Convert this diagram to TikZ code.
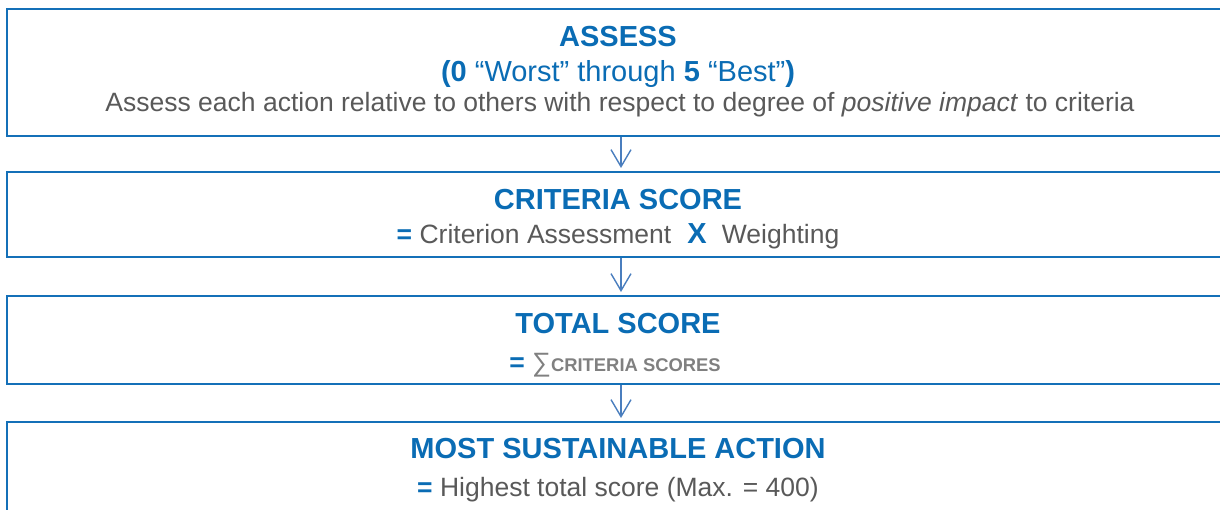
\documentclass[tikz,border=0pt]{standalone}
\usepackage{fontspec}
\setmainfont{Liberation Sans}
\usetikzlibrary{arrows.meta}
\definecolor{boxblue}{HTML}{1470B8}
\definecolor{titleblue}{HTML}{0A6CB4}
\definecolor{arrowblue}{HTML}{4A7EBE}
\definecolor{txtgray}{HTML}{595959}
\definecolor{lightgray}{HTML}{808080}
\tikzset{
  box/.style={draw=boxblue, line width=2pt, rectangle, minimum width=1228pt, inner sep=0pt},
  title/.style={anchor=base, inner sep=0pt, text=titleblue, font=\fontsize{29}{34}\selectfont\bfseries},
  body/.style={anchor=base, inner sep=0pt, text=txtgray, font=\fontsize{26.5}{31}\selectfont},
  sub/.style={anchor=base, inner sep=0pt, text=titleblue, font=\fontsize{29}{34}\selectfont},
  flow/.style={draw=arrowblue, line width=1.4pt, -{Straight Barb[length=17pt,width=20pt,line width=1.4pt]}, shorten >=3pt}
}
\newcommand{\eqsign}{{\color{titleblue}\bfseries =}}
\begin{document}
\begin{tikzpicture}[x=1pt,y=-1pt]
\useasboundingbox (0,0) rectangle (1220,510);
\clip (0,0) rectangle (1220,510);
% boxes
\node[box, minimum height=127pt] (b1) at (621,72.5) {};
\node[box, minimum height=85pt] (b2) at (621,214.5) {};
\node[box, minimum height=88pt] (b3) at (621,340) {};
\node[box, minimum height=110pt] (b4) at (621,477) {};
% texts box 1
\node[title] (t1) at (618,47) {ASSESS};
\node[sub] (s1) at (618,82) {\textbf{(0} “Worst” through \textbf{5} “Best”\textbf{)}};
\node[body] (d1) at (620,112) {Assess each action relative to others with respect to degree of \textit{positive impact} to criteria};
% box 2
\node[title] (t2) at (618,209.5) {CRITERIA SCORE};
\node[body] (d2) at (618,243.5) {\eqsign{} Criterion Assessment\hspace{0.6em}{\color{titleblue}\bfseries\fontsize{29}{34}\selectfont X}\hspace{0.3em} Weighting};
% box 3
\node[title] (t3) at (618,333.5) {TOTAL SCORE};
\node[body] (d3) at (615,371) {\eqsign{} {\color{lightgray}∑\fontsize{18.4}{22}\selectfont\bfseries CRITERIA SCORES}};
% box 4
\node[title] (t4) at (618,458) {MOST SUSTAINABLE ACTION};
\node[body] (d4) at (618,496) {\eqsign{} Highest total score (Max. = 400)};
% arrows
\draw[flow] (b1.south) -- (b2.north);
\draw[flow] (b2.south) -- (b3.north);
\draw[flow] (b3.south) -- (b4.north);
\end{tikzpicture}
\end{document}
